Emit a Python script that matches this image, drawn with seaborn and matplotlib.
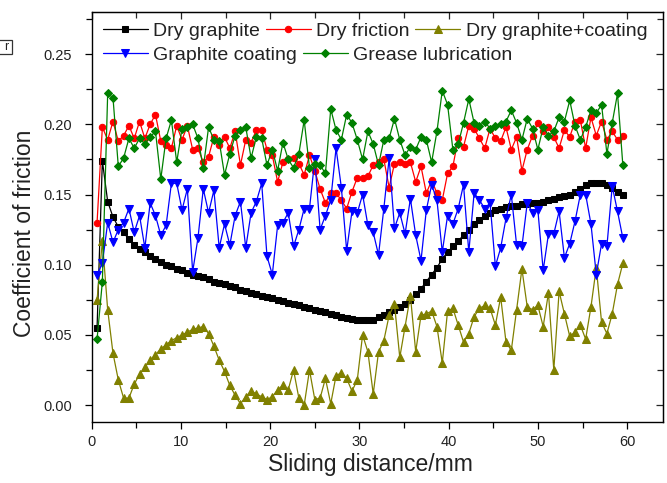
import numpy as np
import pandas as pd
import matplotlib
matplotlib.use("Agg")
import matplotlib.pyplot as plt
from matplotlib.patches import Rectangle
from matplotlib.ticker import MultipleLocator
import seaborn as sns

# ---------------- data ----------------
x_mm = np.round(np.linspace(0.6, 59.5, 100), 3)

dry_graphite = [0.055, 0.174, 0.145, 0.134, 0.127, 0.123, 0.118, 0.114, 0.111, 0.109,
                0.106, 0.104, 0.102, 0.100, 0.099, 0.097, 0.096, 0.094, 0.093, 0.092,
                0.091, 0.090, 0.088, 0.087, 0.086, 0.085, 0.084, 0.082, 0.081, 0.080,
                0.079, 0.078, 0.077, 0.076, 0.075, 0.074, 0.073, 0.072, 0.071, 0.070,
                0.069, 0.068, 0.067, 0.066, 0.065, 0.064, 0.063, 0.062, 0.0615, 0.061,
                0.0605, 0.0605, 0.061, 0.0625, 0.064, 0.066, 0.068, 0.070, 0.072, 0.075,
                0.079, 0.083, 0.088, 0.093, 0.098, 0.104, 0.109, 0.113, 0.117, 0.121,
                0.125, 0.129, 0.132, 0.135, 0.137, 0.139, 0.140, 0.141, 0.142, 0.142,
                0.143, 0.143, 0.144, 0.144, 0.145, 0.146, 0.147, 0.148, 0.149, 0.150,
                0.152, 0.154, 0.157, 0.158, 0.158, 0.158, 0.157, 0.155, 0.152, 0.150]

dry_friction = [0.130, 0.198, 0.189, 0.202, 0.188, 0.192, 0.199, 0.190, 0.202, 0.190,
                0.200, 0.207, 0.188, 0.185, 0.183, 0.199, 0.189, 0.199, 0.182, 0.183,
                0.173, 0.177, 0.191, 0.185, 0.191, 0.183, 0.195, 0.171, 0.189, 0.187,
                0.196, 0.196, 0.182, 0.178, 0.159, 0.173, 0.175, 0.176, 0.172, 0.164,
                0.178, 0.167, 0.154, 0.144, 0.151, 0.151, 0.146, 0.140, 0.152, 0.162,
                0.162, 0.163, 0.171, 0.173, 0.175, 0.155, 0.172, 0.173, 0.172, 0.173,
                0.159, 0.170, 0.151, 0.160, 0.151, 0.146, 0.165, 0.170, 0.190, 0.184,
                0.199, 0.197, 0.190, 0.183, 0.197, 0.190, 0.188, 0.198, 0.182, 0.191,
                0.167, 0.182, 0.192, 0.201, 0.195, 0.198, 0.191, 0.183, 0.196, 0.191,
                0.202, 0.203, 0.183, 0.205, 0.192, 0.202, 0.189, 0.195, 0.189, 0.192]

dry_graphite_coating = [0.075, 0.117, 0.068, 0.037, 0.018, 0.005, 0.005, 0.015, 0.022, 0.027,
                        0.032, 0.036, 0.040, 0.043, 0.046, 0.048, 0.050, 0.052, 0.054, 0.055,
                        0.056, 0.051, 0.042, 0.032, 0.024, 0.014, 0.007, 0.001, 0.006, 0.010,
                        0.008, 0.006, 0.004, 0.006, 0.011, 0.014, 0.011, 0.025, 0.005, 0.000,
                        0.025, 0.004, 0.005, 0.019, 0.001, 0.021, 0.023, 0.019, 0.010, 0.018,
                        0.050, 0.038, 0.008, 0.038, 0.046, 0.064, 0.072, 0.034, 0.056, 0.078,
                        0.038, 0.064, 0.065, 0.067, 0.056, 0.030, 0.067, 0.069, 0.057, 0.045,
                        0.051, 0.063, 0.069, 0.071, 0.069, 0.057, 0.077, 0.045, 0.039, 0.068,
                        0.097, 0.070, 0.068, 0.071, 0.056, 0.080, 0.025, 0.081, 0.065, 0.049,
                        0.052, 0.057, 0.047, 0.070, 0.098, 0.059, 0.051, 0.065, 0.086, 0.101]

graphite_coating = [0.093, 0.101, 0.130, 0.116, 0.125, 0.130, 0.140, 0.123, 0.135, 0.112,
                    0.144, 0.135, 0.121, 0.128, 0.158, 0.158, 0.139, 0.154, 0.095, 0.119,
                    0.154, 0.137, 0.153, 0.112, 0.129, 0.114, 0.135, 0.145, 0.112, 0.137,
                    0.145, 0.158, 0.106, 0.093, 0.128, 0.130, 0.137, 0.113, 0.125, 0.140,
                    0.140, 0.175, 0.125, 0.135, 0.146, 0.183, 0.155, 0.110, 0.138, 0.137,
                    0.150, 0.128, 0.123, 0.107, 0.140, 0.176, 0.126, 0.137, 0.122, 0.147,
                    0.121, 0.103, 0.139, 0.157, 0.146, 0.109, 0.135, 0.129, 0.140, 0.157,
                    0.109, 0.151, 0.146, 0.140, 0.144, 0.099, 0.112, 0.133, 0.150, 0.114,
                    0.113, 0.144, 0.137, 0.139, 0.096, 0.122, 0.122, 0.138, 0.105, 0.115,
                    0.131, 0.150, 0.150, 0.129, 0.093, 0.115, 0.113, 0.156, 0.138, 0.119]

grease_lubrication = [0.047, 0.088, 0.222, 0.219, 0.170, 0.176, 0.190, 0.183, 0.190, 0.186,
                      0.191, 0.195, 0.161, 0.190, 0.203, 0.173, 0.197, 0.198, 0.200, 0.190,
                      0.169, 0.198, 0.189, 0.188, 0.164, 0.179, 0.192, 0.196, 0.198, 0.176,
                      0.191, 0.190, 0.171, 0.182, 0.167, 0.187, 0.175, 0.169, 0.179, 0.203,
                      0.169, 0.172, 0.171, 0.165, 0.211, 0.196, 0.189, 0.207, 0.201, 0.189,
                      0.175, 0.195, 0.186, 0.171, 0.189, 0.190, 0.204, 0.189, 0.178, 0.184,
                      0.182, 0.191, 0.189, 0.173, 0.195, 0.224, 0.214, 0.182, 0.186, 0.201,
                      0.218, 0.201, 0.199, 0.202, 0.197, 0.199, 0.200, 0.202, 0.210, 0.201,
                      0.189, 0.204, 0.197, 0.182, 0.198, 0.192, 0.195, 0.205, 0.202, 0.217,
                      0.199, 0.189, 0.198, 0.210, 0.208, 0.214, 0.179, 0.201, 0.222, 0.171]

series_names = ["Dry graphite", "Dry friction", "Dry graphite+coating",
                "Graphite coating", "Grease lubrication"]
series_values = [dry_graphite, dry_friction, dry_graphite_coating,
                 graphite_coating, grease_lubrication]
x_ticks = [0, 10, 20, 30, 40, 50, 60]
y_ticks = [0.00, 0.05, 0.10, 0.15, 0.20, 0.25]

# ---------------- style ----------------
sns.set_style("ticks")
plt.rcParams["font.family"] = ["Liberation Sans", "DejaVu Sans"]

colors = ["#000000", "#FF0000", "#808000", "#0000FF", "#008000"]
markers = ["s", "o", "^", "v", "D"]
msizes = [4.6, 4.6, 5.2, 5.2, 4.2]

W, H = 667, 483
fig = plt.figure(figsize=(W / 100, H / 100), dpi=100)
ax = fig.add_axes([91.7 / W, 1 - 422 / H, (663 - 91.7) / W, (422 - 12) / H])

for name, vals, c, m, ms in zip(series_names, series_values, colors, markers, msizes):
    df = pd.DataFrame({"x": x_mm, "y": vals})
    sns.lineplot(data=df, x="x", y="y", ax=ax, color=c, marker=m, markersize=ms,
                 markeredgecolor=c, markerfacecolor=c, linewidth=0.9,
                 label=name, sort=False, estimator=None)

ax.set_xlim(0, 64)
ax.set_ylim(-0.012, 0.28)
ax.set_xticks(x_ticks)
ax.set_yticks(y_ticks)
ax.set_yticklabels([f"{v:.2f}" for v in y_ticks])
ax.xaxis.set_minor_locator(MultipleLocator(5))
ax.yaxis.set_minor_locator(MultipleLocator(0.025))

for s in ax.spines.values():
    s.set_visible(True)
    s.set_linewidth(1.0)
    s.set_color("black")

ax.tick_params(axis="both", which="both", direction="out", color="black",
               labelsize=10.5, labelcolor="#222222", width=0.9)
ax.tick_params(axis="both", which="major", length=5)
ax.tick_params(axis="both", which="minor", length=4)
ax.tick_params(axis="y", which="major", pad=9)
ax.tick_params(axis="x", which="major", pad=4)

# mirrored inward ticks on top and right
secx = ax.secondary_xaxis("top")
secx.set_xticks(x_ticks)
secx.xaxis.set_minor_locator(MultipleLocator(5))
secx.tick_params(axis="x", which="both", direction="in", labeltop=False, width=0.9)
secx.tick_params(which="major", length=5)
secx.tick_params(which="minor", length=4)
secy = ax.secondary_yaxis("right")
secy.set_yticks(y_ticks)
secy.yaxis.set_minor_locator(MultipleLocator(0.025))
secy.tick_params(axis="y", which="both", direction="in", labelright=False, width=0.9)
secy.tick_params(which="major", length=5)
secy.tick_params(which="minor", length=4)

ax.set_xlabel("Sliding distance/mm", fontsize=16.5, color="#222222")
ax.set_ylabel("Coefficient of friction", fontsize=16.5, color="#222222")
ax.xaxis.set_label_coords(((263 + 478) / 2 - 91.7) / (663 - 91.7), -(465 - 422) / (422 - 12))
ax.xaxis.label.set_va("center")
ax.yaxis.set_label_coords(-(91.7 - 25) / (663 - 91.7), (422 - 233) / (422 - 12))
ax.yaxis.label.set_va("center")

# legend: two free-flowing rows
handles, labels = ax.get_legend_handles_labels()
ax.get_legend().remove()
common = dict(frameon=False, fontsize=14, handlelength=2.3, handletextpad=0.28,
              columnspacing=0.3, borderpad=0, borderaxespad=0, loc="center left",
              bbox_transform=fig.transFigure, labelcolor="#222222")
leg1 = ax.legend(handles[:3], labels[:3], ncol=3,
                 bbox_to_anchor=(103 / W, 1 - 31.5 / H), **common)
ax.add_artist(leg1)
leg2 = ax.legend(handles[3:], labels[3:], ncol=2,
                 bbox_to_anchor=(103 / W, 1 - 55.5 / H), **common)

# cropped boxed label at the far left
fig.patches.append(Rectangle((-5 / W, 1 - 54 / H), 17 / W, 14 / H, transform=fig.transFigure,
                             fill=False, edgecolor="#333333", linewidth=0.9))
fig.text(6 / W, 1 - 47 / H, "r", fontsize=9, ha="center", va="center", color="#222222")

fig.savefig("out.png", dpi=100)
